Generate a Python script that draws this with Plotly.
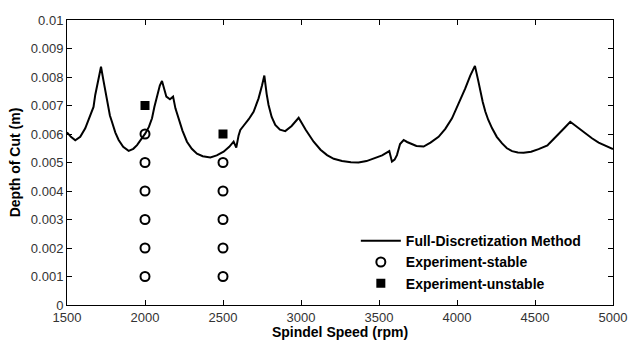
import plotly.graph_objects as go

# Stability lobe curve (Full-Discretization Method)
speed_fdm = [1500, 1525, 1553, 1585, 1617, 1645, 1664, 1670, 1681, 1700, 1718, 1735, 1756, 1775,
             1788, 1810, 1831, 1860, 1895, 1925, 1949, 1975, 2002, 2025, 2045, 2060, 2077, 2095,
             2109, 2122, 2137, 2160, 2180, 2195, 2216, 2240, 2269, 2300, 2333, 2370, 2419, 2460,
             2504, 2540, 2568, 2585, 2600, 2611, 2632, 2665, 2696, 2728, 2750, 2765, 2780, 2792,
             2812, 2835, 2865, 2899, 2940, 2985, 3030, 3081, 3125, 3167, 3210, 3263, 3320, 3369,
             3420, 3476, 3520, 3566, 3583, 3600, 3615, 3635, 3658, 3680, 3701, 3740, 3786, 3830,
             3882, 3925, 3968, 4010, 4053, 4085, 4115, 4135, 4150, 4165, 4182, 4200, 4225, 4255,
             4289, 4320, 4353, 4390, 4427, 4475, 4523, 4580, 4590, 4620, 4651, 4690, 4726, 4775,
             4822, 4865, 4908, 4955, 5000]
depth_fdm = [0.00606, 0.00590, 0.00578, 0.00590, 0.00620, 0.00660, 0.00690, 0.00695, 0.00737, 0.00790,
             0.00836, 0.00784, 0.00713, 0.00665, 0.00643, 0.00605, 0.00579, 0.00555, 0.00541, 0.00548,
             0.00561, 0.00580, 0.00602, 0.00625, 0.00655, 0.00695, 0.00737, 0.00770, 0.00786, 0.00755,
             0.00731, 0.00722, 0.00731, 0.00690, 0.00655, 0.00612, 0.00573, 0.00548, 0.00531, 0.00522,
             0.00518, 0.00525, 0.00538, 0.00555, 0.00573, 0.00552, 0.00595, 0.00614, 0.00629, 0.00652,
             0.00678, 0.00725, 0.00770, 0.00805, 0.00740, 0.00702, 0.00660, 0.00632, 0.00615, 0.00610,
             0.00628, 0.00657, 0.00615, 0.00573, 0.00545, 0.00526, 0.00513, 0.00505, 0.00501, 0.00500,
             0.00505, 0.00515, 0.00525, 0.00540, 0.00503, 0.00510, 0.00526, 0.00565, 0.00579, 0.00572,
             0.00567, 0.00558, 0.00556, 0.00570, 0.00590, 0.00618, 0.00655, 0.00705, 0.00760, 0.00805,
             0.00839, 0.00790, 0.00748, 0.00712, 0.00678, 0.00650, 0.00620, 0.00590, 0.00567, 0.00550,
             0.00540, 0.00535, 0.00534, 0.00538, 0.00547, 0.00560, 0.00566, 0.00582, 0.00602, 0.00622,
             0.00643, 0.00622, 0.00602, 0.00585, 0.00570, 0.00557, 0.00547]

# Experiments
stable_speed = [2000, 2000, 2000, 2000, 2000, 2000, 2500, 2500, 2500, 2500, 2500]
stable_depth = [0.001, 0.002, 0.003, 0.004, 0.005, 0.006, 0.001, 0.002, 0.003, 0.004, 0.005]
unstable_speed = [2000, 2500]
unstable_depth = [0.007, 0.006]

x_ticks = [1500, 2000, 2500, 3000, 3500, 4000, 4500, 5000]
y_ticks = [0, 0.001, 0.002, 0.003, 0.004, 0.005, 0.006, 0.007, 0.008, 0.009, 0.01]
y_tick_text = ["0", "0.001", "0.002", "0.003", "0.004", "0.005", "0.006", "0.007", "0.008", "0.009", "0.01"]

FONT = "Arial, Liberation Sans, sans-serif"

fig = go.Figure()
fig.add_trace(go.Scatter(x=speed_fdm, y=depth_fdm, mode="lines",
                         name="Full-Discretization Method",
                         line=dict(color="black", width=2)))
fig.add_trace(go.Scatter(x=stable_speed, y=stable_depth, mode="markers",
                         name="Experiment-stable",
                         marker=dict(symbol="circle-open", size=9, color="black",
                                     line=dict(width=2, color="black"))))
fig.add_trace(go.Scatter(x=unstable_speed, y=unstable_depth, mode="markers",
                         name="Experiment-unstable",
                         marker=dict(symbol="square", size=9, color="black")))

axis_common = dict(showgrid=False, zeroline=False, showline=True, linecolor="black",
                   linewidth=1, mirror="ticks", ticks="inside", ticklen=5,
                   tickcolor="black", tickwidth=1, automargin=False,
                   tickfont=dict(family=FONT, size=13, color="#333"))

fig.update_xaxes(range=[1500, 5000], tickvals=x_ticks,
                 title=dict(text="<b>Spindel Speed (rpm)</b>",
                            font=dict(family=FONT, size=14, color="black"), standoff=2),
                 **axis_common)
fig.update_yaxes(range=[0, 0.01], tickvals=y_ticks, ticktext=y_tick_text,
                 title=dict(text="<b>Depth of Cut (m)</b>",
                            font=dict(family=FONT, size=14, color="black"), standoff=6),
                 **axis_common)

fig.update_layout(
    width=631, height=340,
    margin=dict(l=67, r=18, t=20, b=35),
    paper_bgcolor="white", plot_bgcolor="white",
    font=dict(family=FONT, size=12, color="black"),
    legend=dict(x=0.529, y=0.28, xanchor="left", yanchor="top",
                bgcolor="rgba(0,0,0,0)", borderwidth=0, itemwidth=40,
                font=dict(family=FONT, size=14, color="black", weight="bold")),
)

fig.write_html("out.html")
